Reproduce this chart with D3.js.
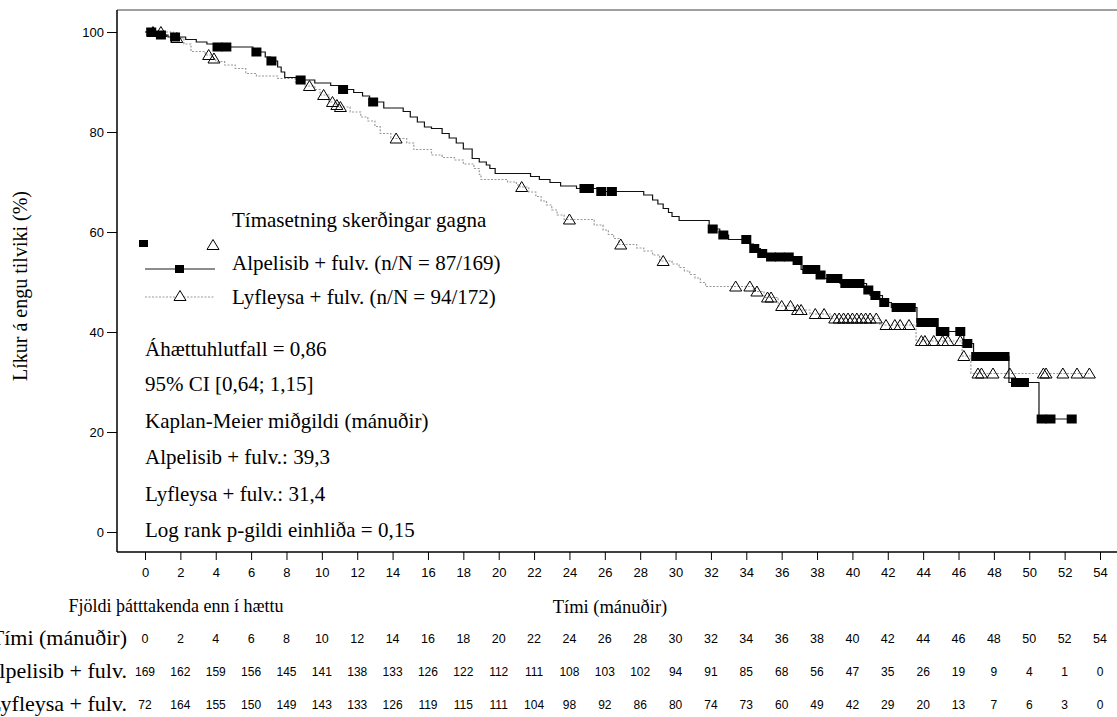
<!DOCTYPE html>
<html>
<head>
<meta charset="utf-8">
<script src="https://cdn.jsdelivr.net/npm/d3@7"></script>
<style>
  body { margin: 0; background: #fff; }
  svg { display: block; }
  .serif { font-family: "Liberation Serif", "Times New Roman", serif; font-size: 21px; fill: #000; }
  .sans { font-family: "Liberation Sans", Arial, sans-serif; fill: #000; }
</style>
</head>
<body>
<svg id="chart" width="1117" height="717"></svg>
<script>
"use strict";

// ---- data ----
const xTicks = d3.range(0, 55, 2);
const yTicks = [0, 20, 40, 60, 80, 100];

// Alpelisib + fulv. (Kaplan-Meier steps: time of drop, survival after drop)
const alpStepTime = [0, 0.6, 1.3, 2.3, 2.9, 3.5, 4.0, 6.1, 6.8, 7.1, 7.5, 7.7, 7.9, 8.6, 9.6, 10.5, 11.0, 11.8, 12.3, 12.7,
    13.5, 14.6, 15.0, 15.4, 15.8, 16.2, 16.8, 17.2, 17.6, 18.0, 18.5, 18.9, 19.3, 19.5, 19.8, 21.8, 22.3, 22.9, 23.5, 24.4,
    25.6, 28.2, 28.7, 29.0, 29.3, 29.6, 29.8, 30.2, 31.9, 32.5, 33.0, 34.2, 34.4, 34.8, 35.0, 36.8, 37.1, 38.1, 38.4, 39.3,
    40.8, 41.0, 41.7, 42.2, 43.65, 44.8, 46.3, 46.85, 48.85, 50.55];
const alpStepSurv = [100, 99.4, 99.0, 98.5, 98.0, 97.6, 97.0, 96.0, 95.0, 94.2, 93.0, 92.0, 90.9, 90.4, 89.8, 89.3, 88.5, 87.9, 87.2, 86.0,
    84.8, 84.1, 83.0, 82.0, 81.0, 80.7, 79.7, 78.8, 77.8, 76.6, 74.7, 74.0, 73.4, 72.7, 71.7, 71.1, 70.5, 69.9, 69.2, 68.7,
    68.1, 67.4, 66.4, 65.6, 64.7, 63.9, 63.1, 62.3, 60.6, 59.4, 58.5, 57.6, 56.7, 55.7, 55.0, 54.3, 52.5, 51.4, 50.7, 49.7,
    48.4, 47.3, 45.9, 44.9, 41.9, 40.1, 37.7, 35.1, 29.9, 22.6];
const alpEnd = 52.4;
const alpCensor = [0.35, 0.9, 1.7, 4.1, 4.6, 6.3, 7.15, 8.8, 11.2, 12.9, 24.85, 25.1, 25.8, 26.4, 32.1, 32.7, 34.0, 34.45, 34.9,
    35.4, 35.9, 36.4, 36.9, 37.45, 37.9, 38.2, 38.8, 39.15, 39.6, 40.0, 40.4, 40.9, 41.3, 41.8, 42.5, 42.9, 43.3, 43.9, 44.3,
    44.6, 45.0, 45.2, 46.1, 46.5, 47.0, 47.4, 47.8, 48.2, 48.6, 49.25, 49.7, 50.7, 51.2, 52.4];

// Lyfleysa + fulv.
const pboStepTime = [0, 1.6, 2.2, 2.6, 3.4, 3.8, 4.0, 4.5, 5.1, 5.7, 6.3, 7.5, 8.5, 9.0, 9.6, 9.9, 10.4, 10.8, 11.0, 11.6,
    12.2, 12.6, 13.0, 13.3, 13.9, 14.8, 15.2, 16.2, 16.8, 17.5, 18.0, 18.6, 18.9, 19.0, 20.5, 21.0, 21.2, 21.7, 22.1, 22.4,
    22.7, 23.0, 23.3, 23.7, 25.4, 25.9, 26.2, 26.5, 26.8, 27.8, 28.2, 28.7, 29.1, 29.8, 30.2, 30.5, 30.8, 31.1, 31.4, 31.7,
    34.4, 35.0, 35.8, 36.7, 37.6, 38.8, 41.55, 43.6, 46.2, 46.7];
const pboStepSurv = [100, 98.8, 97.6, 96.1, 95.4, 94.7, 94.1, 93.4, 92.7, 91.7, 91.2, 90.7, 90.0, 89.2, 88.5, 87.4, 86.0, 85.4, 85.0, 84.0,
    83.0, 82.2, 81.1, 79.7, 78.7, 77.8, 76.5, 75.4, 74.9, 74.4, 73.6, 72.7, 71.5, 70.5, 70.0, 69.4, 69.0, 68.0, 67.1, 66.2,
    65.4, 64.4, 63.4, 62.5, 61.4, 60.4, 59.5, 58.7, 57.5, 56.8, 56.2, 55.4, 54.2, 53.6, 52.9, 52.2, 51.5, 50.8, 49.9, 49.1,
    48.1, 46.9, 45.2, 44.4, 43.6, 42.7, 41.4, 38.2, 35.2, 31.7];
const pboEnd = 53.4;
const pboCensor = [0.45, 0.9, 1.8, 3.6, 3.9, 9.3, 10.1, 10.6, 10.85, 11.05, 14.2, 21.3, 24.0, 26.9, 29.3, 33.4, 34.2, 34.6,
    35.2, 35.4, 36.0, 36.5, 36.9, 37.1, 37.9, 38.4, 39.0, 39.25, 39.5, 39.75, 40.0, 40.25, 40.5, 40.75, 41.0, 41.35, 41.9,
    42.4, 42.7, 43.2, 43.9, 44.1, 44.6, 45.1, 45.4, 46.1, 46.3, 47.1, 47.3, 47.95, 48.9, 50.8, 50.95, 51.9, 52.7, 53.4];

// number at risk
const riskTimes = d3.range(0, 55, 2);
const alpRisk = [169, 162, 159, 156, 145, 141, 138, 133, 126, 122, 112, 111, 108, 103, 102, 94, 91, 85, 68, 56, 47, 35, 26, 19, 9, 4, 1, 0];
const pboRisk = ["72", 164, 155, 150, 149, 143, 133, 126, 119, 115, 111, 104, 98, 92, 86, 80, 74, 73, 60, 49, 42, 29, 20, 13, 7, 6, 3, 0];

const legendTitle = "Tímasetning skerðingar gagna";
const seriesLabels = ["Alpelisib + fulv. (n/N = 87/169)", "Lyfleysa + fulv. (n/N = 94/172)"];
const statLines = ["Áhættuhlutfall = 0,86", "95% CI [0,64; 1,15]", "Kaplan-Meier miðgildi (mánuðir)",
    "Alpelisib + fulv.: 39,3", "Lyfleysa + fulv.: 31,4", "Log rank p-gildi einhliða = 0,15"];
const rowLabels = ["Tími (mánuðir)", "Alpelisib + fulv.", "Lyfleysa + fulv."];

// ---- layout ----
const svg = d3.select("#chart");
const x = d3.scaleLinear().domain([0, 54]).range([145, 1100]);
const y = d3.scaleLinear().domain([-4, 104.4]).range([552, 10]);
const plotLeft = 117, plotRight = 1117;

// frame
svg.append("line").attr("x1", plotLeft).attr("x2", plotRight).attr("y1", y(104.4)).attr("y2", y(104.4))
    .attr("stroke", "#808080").attr("stroke-width", 1.5);
svg.append("line").attr("x1", plotLeft).attr("x2", plotLeft).attr("y1", y(104.4)).attr("y2", y(-4))
    .attr("stroke", "#000").attr("stroke-width", 1.5);
svg.append("line").attr("x1", plotLeft).attr("x2", plotRight).attr("y1", y(-4)).attr("y2", y(-4))
    .attr("stroke", "#000").attr("stroke-width", 1.5);

// axes
const xAxis = svg.append("g")
    .attr("transform", `translate(0,${y(-4)})`)
    .call(d3.axisBottom(x).tickValues(xTicks).tickSize(8).tickSizeOuter(0).tickPadding(8));
xAxis.select(".domain").remove();
xAxis.selectAll("text").attr("class", "sans").style("font-size", "13px");
xAxis.selectAll("line").attr("stroke", "#000");

const yAxis = svg.append("g")
    .attr("transform", `translate(${plotLeft},0)`)
    .call(d3.axisLeft(y).tickValues(yTicks).tickSize(10).tickSizeOuter(0).tickPadding(3));
yAxis.select(".domain").remove();
yAxis.selectAll("text").attr("class", "sans").style("font-size", "13px");
yAxis.selectAll("line").attr("stroke", "#000");

svg.append("text").attr("class", "serif")
    .style("font-size", "20px")
    .attr("transform", `translate(27,${y(50) + 4}) rotate(-90)`)
    .attr("text-anchor", "middle")
    .text("Líkur á engu tilviki (%)");

// ---- curves ----
function stepPoints(times, surv, end) {
    const pts = times.map((t, i) => [t, surv[i]]);
    pts.push([end, surv[surv.length - 1]]);
    return pts;
}
function survAt(times, surv, t) {
    let s = surv[0];
    for (let i = 0; i < times.length; i++) {
        if (times[i] <= t) s = surv[i];
    }
    return s;
}
const line = d3.line().x(d => x(d[0])).y(d => y(d[1])).curve(d3.curveStepAfter);

svg.append("path")
    .datum(stepPoints(pboStepTime, pboStepSurv, pboEnd))
    .attr("d", line)
    .attr("fill", "none")
    .attr("stroke", "#9a9a9a")
    .attr("stroke-width", 1.2)
    .attr("stroke-dasharray", "2,1.5");

svg.append("path")
    .datum(stepPoints(alpStepTime, alpStepSurv, alpEnd))
    .attr("d", line)
    .attr("fill", "none")
    .attr("stroke", "#111")
    .attr("stroke-width", 1.2);

const triPath = "M0,-5.5L6,4.5L-6,4.5Z";

svg.append("g").selectAll("path")
    .data(pboCensor)
    .join("path")
    .attr("d", triPath)
    .attr("transform", t => `translate(${x(t)},${y(survAt(pboStepTime, pboStepSurv, t))})`)
    .attr("fill", "none")
    .attr("stroke", "#000")
    .attr("stroke-width", 1);

svg.append("g").selectAll("rect")
    .data(alpCensor)
    .join("rect")
    .attr("x", t => x(t) - 5)
    .attr("y", t => y(survAt(alpStepTime, alpStepSurv, t)) - 4.5)
    .attr("width", 10)
    .attr("height", 9)
    .attr("fill", "#000");

// ---- legend ----
svg.append("text").attr("class", "serif").attr("x", 232).attr("y", 227).text(legendTitle);
svg.append("rect").attr("x", 139).attr("y", 240).attr("width", 9).attr("height", 7).attr("fill", "#000");
svg.append("path").attr("d", triPath).attr("transform", "translate(213,245)")
    .attr("fill", "none").attr("stroke", "#000").attr("stroke-width", 1);

svg.append("line").attr("x1", 145).attr("x2", 215).attr("y1", 269).attr("y2", 269)
    .attr("stroke", "#666").attr("stroke-width", 1.5);
svg.append("rect").attr("x", 175).attr("y", 265).attr("width", 9).attr("height", 8).attr("fill", "#000");
svg.append("text").attr("class", "serif").attr("x", 232).attr("y", 270).text(seriesLabels[0]);

svg.append("line").attr("x1", 145).attr("x2", 215).attr("y1", 297).attr("y2", 297)
    .attr("stroke", "#9a9a9a").attr("stroke-width", 1).attr("stroke-dasharray", "2,1.5");
svg.append("path").attr("d", triPath).attr("transform", "translate(180,296)")
    .attr("fill", "#fff").attr("stroke", "#000").attr("stroke-width", 1);
svg.append("text").attr("class", "serif").attr("x", 232).attr("y", 304).text(seriesLabels[1]);

// ---- stats ----
const statY = [356, 391, 428, 464, 501, 537];
svg.append("g").selectAll("text")
    .data(statLines)
    .join("text")
    .attr("class", "serif")
    .attr("x", 145)
    .attr("y", (d, i) => statY[i])
    .text(d => d);

// ---- number at risk table ----
svg.append("text").attr("class", "serif").style("font-size", "18px")
    .attr("x", 176).attr("y", 612)
    .attr("text-anchor", "middle").text("Fjöldi þátttakenda enn í hættu");
svg.append("text").attr("class", "serif").style("font-size", "18.5px")
    .attr("x", 610).attr("y", 613)
    .attr("text-anchor", "middle").text("Tími (mánuðir)");

const rowY = [645, 678, 711];
svg.append("g").selectAll("text")
    .data(rowLabels)
    .join("text")
    .attr("class", "serif")
    .style("font-size", "22px")
    .attr("x", 127)
    .attr("y", (d, i) => rowY[i])
    .attr("text-anchor", "end")
    .text(d => d);

const rows = [riskTimes, alpRisk, pboRisk];
rows.forEach((vals, r) => {
    svg.append("g").selectAll("text")
        .data(vals)
        .join("text")
        .attr("class", "sans")
        .style("font-size", r === 0 ? "12.5px" : "12px")
        .attr("x", (d, i) => x(riskTimes[i]))
        .attr("y", rowY[r] - 2)
        .attr("text-anchor", "middle")
        .text(d => d);
});
</script>
</body>
</html>
